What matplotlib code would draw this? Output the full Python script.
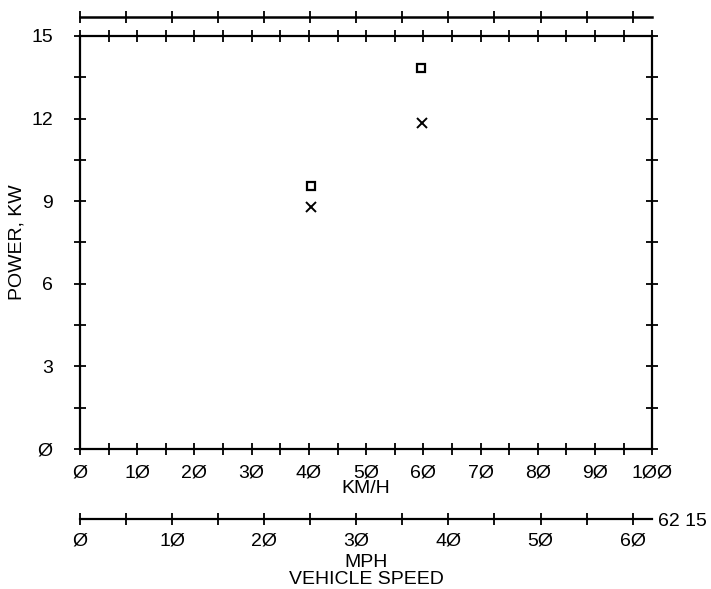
import matplotlib.pyplot as plt
import numpy as np

# km/h vs power readings
speed_sq = [40.3, 59.6]
power_sq = [9.55, 13.85]
speed_x = [40.3, 59.8]
power_x = [8.8, 11.85]

kmh_ticks = list(range(0, 101, 10))
kmh_labels = ["Ø", "1Ø", "2Ø", "3Ø", "4Ø", "5Ø", "6Ø", "7Ø", "8Ø", "9Ø", "1ØØ"]
kw_ticks = [0, 3, 6, 9, 12, 15]
kw_labels = ["Ø", "3", "6", "9", "12", "15"]
mph_ticks = [0, 10, 20, 30, 40, 50, 60]
mph_labels = ["Ø", "1Ø", "2Ø", "3Ø", "4Ø", "5Ø", "6Ø"]

plt.rcParams["font.family"] = ["Liberation Sans", "DejaVu Sans"]
plt.rcParams["font.size"] = 14

KMH_PER_MPH = 1.609344


def kmh2mph(v):
    return np.asarray(v) / KMH_PER_MPH


def mph2kmh(v):
    return np.asarray(v) * KMH_PER_MPH


fig = plt.figure(figsize=(7.11, 5.89), dpi=100)
ax = fig.add_axes([0.1125, 0.238, 0.805, 0.701])

ax.plot(speed_sq, power_sq, ls="none", marker="s", ms=6, mfc="none", mec="black", mew=1.6)
ax.plot(speed_x, power_x, ls="none", marker="x", ms=7, color="black", mew=1.4)

ax.set_xlim(0, 100)
ax.set_ylim(0, 15)
ax.set_xticks(kmh_ticks)
ax.set_xticklabels(kmh_labels)
ax.set_xticks(np.arange(5, 100, 10), minor=True)
ax.set_yticks(kw_ticks)
ax.set_yticklabels(kw_labels)
ax.set_yticks(np.arange(1.5, 15, 3), minor=True)

for s in ax.spines.values():
    s.set_linewidth(1.6)

ax.tick_params(which="both", direction="inout", length=9, width=1.3,
               top=True, right=True)
ax.tick_params(axis="x", pad=7)
ax.tick_params(axis="y", pad=15)

ax.set_xlabel("KM/H", labelpad=-1)
ax.set_ylabel("POWER, KW", labelpad=4)

# mph scales above and below the plot
top = ax.secondary_xaxis(1.045, functions=(kmh2mph, mph2kmh))
top.set_xticks(np.arange(0, 65, 5))
top.set_xticklabels([])
top.tick_params(which="both", direction="inout", length=8, width=1.3)
top.spines["top"].set_linewidth(1.8)

bot = ax.secondary_xaxis(-0.17, functions=(kmh2mph, mph2kmh))
bot.set_xticks(mph_ticks)
bot.set_xticklabels(mph_labels)
bot.set_xticks(np.arange(5, 65, 10), minor=True)
bot.tick_params(which="both", direction="inout", length=8, width=1.3, pad=6)
bot.spines["bottom"].set_linewidth(1.6)
bot.set_xlabel("MPH\nVEHICLE SPEED", linespacing=1.0, labelpad=3)

ax.text(1.01, -0.175, "62 15", transform=ax.transAxes, ha="left", va="center")

fig.savefig("out.png", dpi=100)
